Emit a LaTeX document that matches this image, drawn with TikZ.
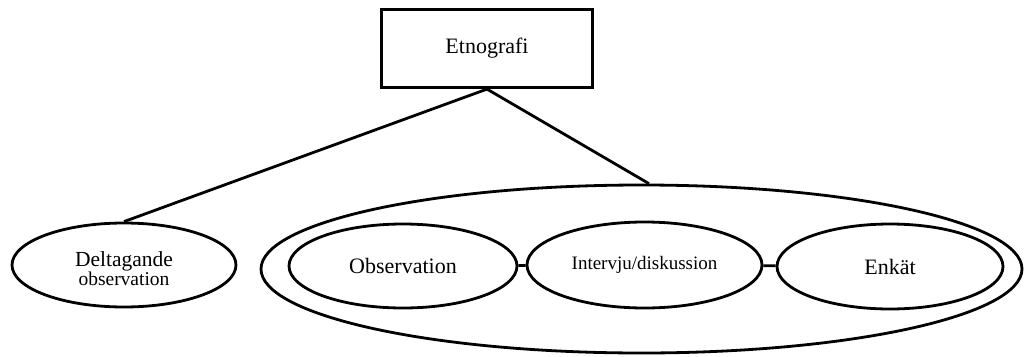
\documentclass[tikz,border=0pt]{standalone}
\usepackage{fontspec}
\setmainfont{Liberation Serif}
\usetikzlibrary{shapes.geometric}
\begin{document}
\begin{tikzpicture}[x=1pt,y=-1pt,
  line width=2.8pt,
  boxnode/.style={draw, rectangle, inner sep=0pt, line width=3.2pt,
    minimum width=211pt, minimum height=78pt},
  oval/.style={draw, ellipse, inner sep=0pt, align=center},
  txt/.style={font=\fontsize{22}{26}\selectfont},
  link/.style={line width=2.8pt}]
  \useasboundingbox (0,0) rectangle (1024,356);

  % top box
  \node[boxnode, txt] (top) at (487,48.5) {Etnografi};

  % left method: outline and its two-line label
  \node[oval, minimum width=224pt, minimum height=84pt] (delt) at (124,265) {};
  \node[align=center, inner sep=0pt] (deltlabel) at (124,268.5)
    {\fontsize{21.5}{22}\selectfont Deltagande\\[0pt]\fontsize{19.5}{22}\selectfont observation};

  % enclosing group and its three methods
  \node[oval, minimum width=761pt, minimum height=168pt] (grp) at (641.5,269) {};
  \node[oval, txt, minimum width=228pt, minimum height=84pt] (obs) at (403,266)
    {\fontsize{22}{26}\selectfont Observation};
  \node[oval, minimum width=235pt, minimum height=86pt] (int) at (644.5,265)
    {\fontsize{19}{24}\selectfont Intervju/diskussion};
  \node[oval, txt, minimum width=226pt, minimum height=85pt] (enk) at (890,266.5)
    {Enkät};

  % connectors
  \draw[link] (top.south) -- (delt.north);
  \draw[link] (top.south) -- (grp.85.6);
  \draw[link] (obs) -- (int);
  \draw[link] (int) -- (enk);
\end{tikzpicture}
\end{document}
